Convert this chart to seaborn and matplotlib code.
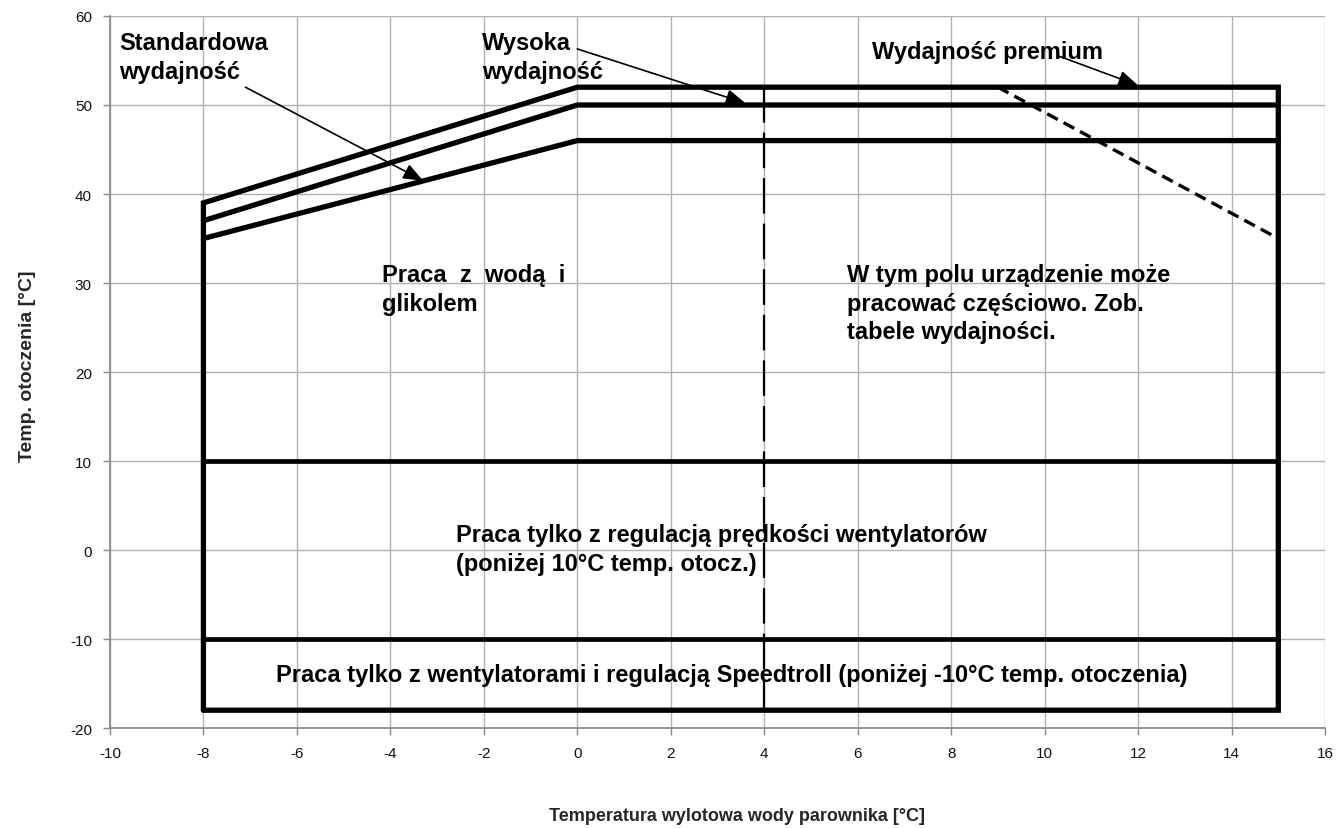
import matplotlib
matplotlib.use("Agg")
import matplotlib.pyplot as plt
import seaborn as sns
import pandas as pd

# --- dane ---
boundary_x = [-8, -8, 0, 15, 15, -8]
boundary_y = [-18, 39, 52, 52, -18, -18]
high_x = [-8, 0, 15]
high_y = [37, 50, 50]
std_x = [-8, 0, 15]
std_y = [35, 46, 46]
fan_x = [-8, 15]
fan_y = [10, 10]
speed_x = [-8, 15]
speed_y = [-10, -10]
divider_x = [4, 4]
divider_y = [52, -18]
premium_x = [9, 15]
premium_y = [52, 35]

x_ticks = list(range(-10, 17, 2))
y_ticks = list(range(-20, 61, 10))

sns.set_theme(style="whitegrid")
plt.rcParams['font.family'] = ['Liberation Sans', 'DejaVu Sans']
plt.rcParams['axes.unicode_minus'] = False

fig = plt.figure(figsize=(13.36, 8.29), dpi=100)
ax = fig.add_axes([0.0823, 0.1206, 0.9095, 0.8589])


def line(xs, ys, **kw):
    df = pd.DataFrame({"x": xs, "y": ys})
    sns.lineplot(data=df, x="x", y="y", sort=False, estimator=None,
                 color="black", ax=ax, **kw)


line(boundary_x, boundary_y, linewidth=3.8, solid_joinstyle="miter")
line(high_x, high_y, linewidth=3.8)
line(std_x, std_y, linewidth=3.8)
line(fan_x, fan_y, linewidth=3.4)
line(speed_x, speed_y, linewidth=3.4)
line(divider_x, divider_y, linewidth=1.6, dashes=(16, 4.5))
line(premium_x, premium_y, linewidth=2.4, dashes=(3.6, 2))

ax.set_xlim(-10, 16)
ax.set_ylim(-20, 60)
ax.set_xticks(x_ticks)
ax.set_yticks(y_ticks)
ax.grid(True, color="#b0b0b0", linewidth=1.0)
for s in ax.spines.values():
    s.set_visible(False)
ax.spines['left'].set_visible(True)
ax.spines['bottom'].set_visible(True)
ax.spines['left'].set_color("#888888")
ax.spines['bottom'].set_color("#888888")
ax.tick_params(axis="both", which="both", length=5, width=1, color="#888888",
               labelsize=11, labelcolor="#111111", pad=8, direction="out",
               left=True, bottom=True)

ax.set_xlabel("Temperatura wylotowa wody parownika [°C]", fontsize=13,
              fontweight="bold")
ax.xaxis.set_label_coords(0.516, -0.123)
ax.xaxis.label.set_va("center")
ax.set_ylabel("Temp. otoczenia [°C]", fontsize=14, fontweight="bold")
ax.yaxis.set_label_coords(-0.068, 0.51)
ax.yaxis.label.set_va("center")

txt = dict(fontsize=17, fontweight="bold", color="black", linespacing=1.3)
ax.text(-9.8, 58.3, "Standardowa\nwydajność", ha="left", va="top", **txt)
ax.text(-2.04, 58.3, "Wysoka\nwydajność", ha="left", va="top", **txt)
ax.text(6.3, 57.3, "Wydajność premium", ha="left", va="top", **txt)
ax.text(-4.18, 32.2, "Praca  z  wodą  i\nglikolem", ha="left", va="top", **txt)
ax.text(5.77, 32.2, "W tym polu urządzenie może\npracować częściowo. Zob.\ntabele wydajności.",
        ha="left", va="top", **txt)
ax.text(-2.6, 3.0, "Praca tylko z regulacją prędkości wentylatorów\n(poniżej 10°C temp. otocz.)",
        ha="left", va="top", **txt)
ax.text(3.3, -14, "Praca tylko z wentylatorami i regulacją Speedtroll (poniżej -10°C temp. otoczenia)",
        ha="center", va="center", **txt)

arrow = dict(arrowstyle="-|>,head_length=1.0,head_width=0.4", color="black",
             linewidth=1.2, shrinkA=0, shrinkB=0)
ax.annotate("", xy=(-3.3, 41.5), xytext=(-7.1, 52.0), arrowprops=arrow)
ax.annotate("", xy=(3.6, 50.2), xytext=(0.0, 56.3), arrowprops=arrow)
ax.annotate("", xy=(12.0, 52.2), xytext=(10.3, 55.5), arrowprops=arrow)

fig.savefig("out.png", dpi=100)
